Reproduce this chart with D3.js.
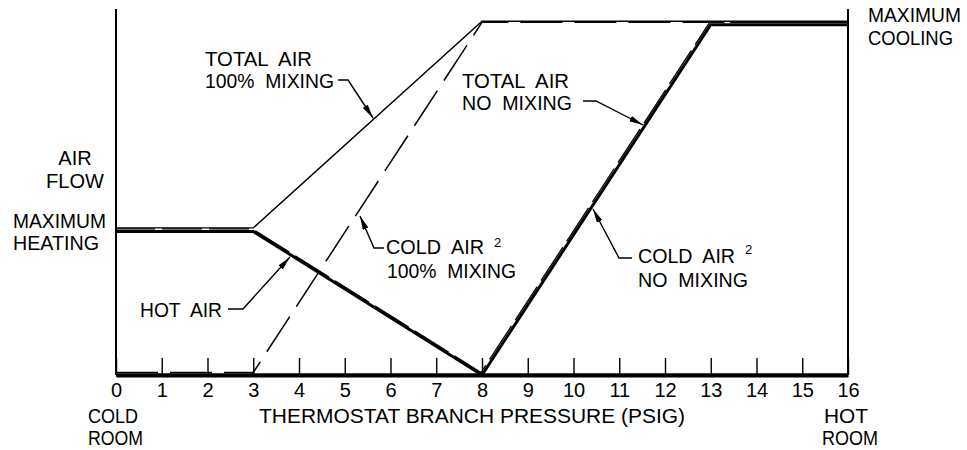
<!DOCTYPE html>
<html><head><meta charset="utf-8">
<script src="https://cdn.jsdelivr.net/npm/d3@7"></script>
<style>
html,body{margin:0;padding:0;background:#fff;}
text{font-family:"Liberation Sans",Arial,sans-serif;fill:#000;}
.narrow{font-family:"Liberation Sans Narrow","Liberation Sans",Arial,sans-serif;}
</style></head>
<body>
<svg id="chart" width="967" height="450"></svg>
<script>
// ---- data ----
const tickValues = [0,1,2,3,4,5,6,7,8,9,10,11,12,13,14,15,16];
const tickLabels = ["0","1","2","3","4","5","6","7","8","9","10","11","12","13","14","15","16"];
// airflow in % of maximum cooling flow
const totalMixX = [0, 3, 8, 16];
const totalMixY = [41, 41, 100, 100];
const hotX = [0, 3, 8, 16];
const hotY = [41, 41, 0, 0];
const coldMixX = [0, 3, 8, 16];
const coldMixY = [0, 0, 100, 100];
const totalNoMixX = [0, 3, 8, 13, 16];
const totalNoMixY = [41, 41, 0, 100, 100];
const coldNoMixX = [0, 8, 13, 16];
const coldNoMixY = [0, 0, 100, 100];
const xTitle = "THERMOSTAT BRANCH PRESSURE (PSIG)";

// ---- layout ----
const svg = d3.select("#chart");
const x = d3.scaleLinear().domain([0,16]).range([116,848]);
const y = d3.scaleLinear().domain([0,104.5]).range([375,9]);
const line = d3.line().x(d=>x(d[0])).y(d=>y(d[1]));
const zip = (a,b)=>a.map((v,i)=>[v,b[i]]);

// arrow marker
svg.append("defs").append("marker")
  .attr("id","arr").attr("viewBox","0 0 14 6").attr("refX",14).attr("refY",3)
  .attr("markerWidth",14).attr("markerHeight",6).attr("markerUnits","userSpaceOnUse")
  .attr("orient","auto")
  .append("path").attr("d","M0,0 L14,3 L0,6 Z").attr("fill","#000");

// axes frame
svg.append("line").attr("x1",x(0)).attr("x2",x(0)).attr("y1",y(104.5)).attr("y2",y(0))
  .attr("stroke","#000").attr("stroke-width",2);
svg.append("line").attr("x1",x(16)).attr("x2",x(16)).attr("y1",y(104.5)).attr("y2",y(0))
  .attr("stroke","#000").attr("stroke-width",2);

const ax = svg.append("g").attr("transform",`translate(0,${y(0)})`)
  .call(d3.axisBottom(x).tickValues(tickValues).tickFormat((d,i)=>tickLabels[i])
        .tickSizeInner(-17).tickSizeOuter(0).tickPadding(8));
ax.select(".domain").attr("stroke","#000").attr("stroke-width",4);
ax.selectAll(".tick line").attr("stroke","#000").attr("stroke-width",1.4);
ax.selectAll(".tick text").attr("class","narrow").attr("font-size",20)
  .attr("font-family",null).attr("fill","#000");

// series
svg.append("path").datum(zip(coldMixX,coldMixY)).attr("d",line)
  .attr("fill","none").attr("stroke","#000").attr("stroke-width",1.5)
  .attr("stroke-dasharray","42,12").attr("transform","translate(0,-2.5)");
svg.append("path").datum(zip(totalMixX,totalMixY)).attr("d",line)
  .attr("fill","none").attr("stroke","#000").attr("stroke-width",1.4)
  .attr("transform","translate(0,-3.5)");
svg.append("path").datum(zip(totalNoMixX,totalNoMixY)).attr("d",line)
  .attr("fill","none").attr("stroke","#000").attr("stroke-width",1.3)
  .attr("stroke-dasharray","40,7").attr("transform","translate(-1,-2.5)");
svg.append("path").datum(zip(hotX,hotY)).attr("d",line)
  .attr("fill","none").attr("stroke","#000").attr("stroke-width",3).attr("stroke-linejoin","miter");
svg.append("path").datum(zip(coldNoMixX,coldNoMixY)).attr("d",line)
  .attr("fill","none").attr("stroke","#000").attr("stroke-width",3);

// text labels
function label(txt, px, py, opts={}){
  const t = svg.append("text").attr("x",px).attr("y",py).attr("font-size",opts.size||20)
    .attr("text-anchor",opts.anchor||"start").attr("xml:space","preserve").style("white-space","pre");
  if(opts.cls) t.attr("class",opts.cls);
  if(opts.len) t.attr("textLength",opts.len).attr("lengthAdjust","spacingAndGlyphs");
  t.text(txt);
  return t;
}
label("AIR",75,165,{anchor:"middle"});
label("FLOW",75,188,{anchor:"middle"});
label("MAXIMUM",13,228,{len:93});
label("HEATING",13,250,{len:86});
label("MAXIMUM",868,22,{len:93});
label("COOLING",868,45,{len:85});
label("TOTAL  AIR",205,66,{len:107});
label("100%  MIXING",205,88,{len:129});
label("TOTAL  AIR",462,88,{len:107});
label("NO  MIXING",462,110,{len:110});
label("COLD  AIR",386,254,{len:98});
label("2",494,247,{size:13});
label("100%  MIXING",387,278,{len:129});
label("HOT  AIR",140,317,{len:82});
label("COLD  AIR",638,263,{len:97});
label("2",745,254,{size:13});
label("NO  MIXING",638,287,{len:110});
label("COLD",88,423,{cls:"narrow",len:50});
label("ROOM",88,445,{cls:"narrow",len:55});
label(xTitle,259,423,{cls:"narrow",len:426});
label("HOT",824,423,{cls:"narrow",len:44});
label("ROOM",822,445,{cls:"narrow",len:56});

// leaders with arrows
function leader(pts){
  svg.append("path").attr("d",d3.line()(pts)).attr("fill","none")
    .attr("stroke","#000").attr("stroke-width",1.4).attr("marker-end","url(#arr)");
}
leader([[338,80],[348,80],[373,118]]);
leader([[583,101],[596,101],[643,125]]);
leader([[384,248],[374,248],[360,216]]);
leader([[228,309],[243,309],[290,257]]);
leader([[632,258],[619,258],[593,209]]);
</script>
</body></html>
